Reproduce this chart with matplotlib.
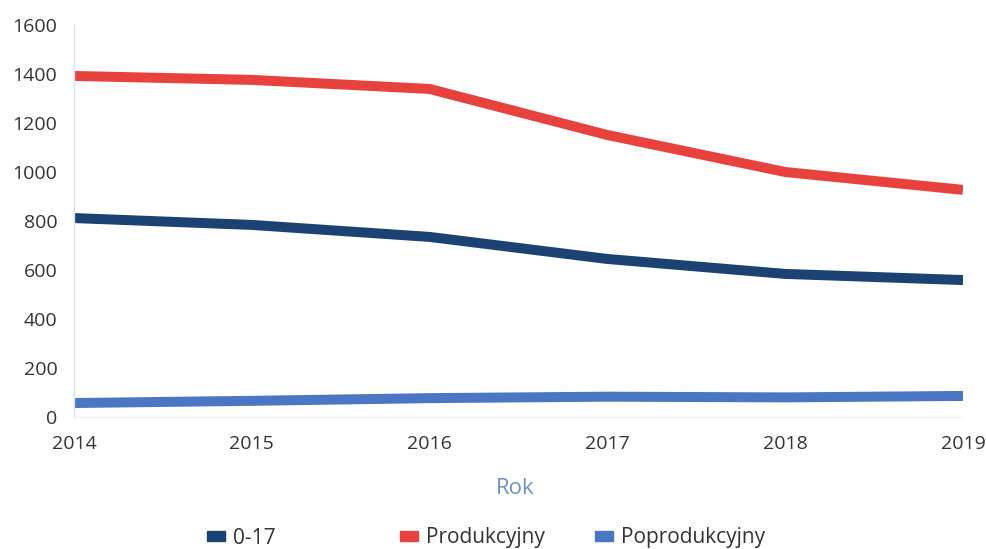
import matplotlib
matplotlib.use("Agg")
import matplotlib.pyplot as plt
from matplotlib.patches import Patch

years = [2014, 2015, 2016, 2017, 2018, 2019]
s_0_17 = [812, 784, 735, 645, 584, 559]
s_prod = [1392, 1376, 1339, 1151, 1000, 927]
s_poprod = [57, 66, 77, 83, 80, 86]
y_ticks = [0, 200, 400, 600, 800, 1000, 1200, 1400, 1600]
series_names = ['0-17', 'Produkcyjny', 'Poprodukcyjny']

c_navy = "#1c4273"
c_red = "#e8423f"
c_blue = "#4a76c4"

plt.rcParams['font.family'] = ['Open Sans', 'DejaVu Sans']

W, H = 987, 549
fig = plt.figure(figsize=(W / 100, H / 100), dpi=100)
ax = fig.add_axes([74 / W, 132 / H, 889 / W, 392 / H])

lw = 7.2
for vals, col in zip([s_0_17, s_prod, s_poprod], [c_navy, c_red, c_blue]):
    ax.plot(years, vals, color=col, lw=lw, solid_joinstyle='round', solid_capstyle='butt')

ax.set_xlim(2014, 2019)
ax.set_ylim(0, 1600)
ax.set_yticks(y_ticks)
ax.set_xticks(years)
ax.tick_params(axis='both', length=0, labelsize=14, labelcolor='#333333')
ax.tick_params(axis='y', pad=12)
ax.tick_params(axis='x', pad=13)
for sp in ['top', 'right']:
    ax.spines[sp].set_visible(False)
ax.spines['left'].set_color('#d5e2ee')
ax.spines['left'].set_linewidth(1)
ax.spines['bottom'].set_color('#eef2f6')
ax.spines['bottom'].set_linewidth(1)

ax.set_xlabel('Rok', fontsize=16, color='#6f8fc4', va='center')
ax.xaxis.set_label_coords((515 - 74) / 889, (417 - 488) / 392)

# legend entries at fixed grid positions
leg_x = [207, 400, 595]
for name, col, lx in zip(series_names, [c_navy, c_red, c_blue], leg_x):
    leg = fig.legend(handles=[Patch(color=col, label=name)], loc='center left',
                     bbox_to_anchor=(lx / W, 1 - 538 / H), frameon=False, fontsize=15,
                     handlelength=0.85, handleheight=0.3, handletextpad=0.4,
                     borderpad=0, borderaxespad=0)
    for t in leg.get_texts():
        t.set_color('#333333')

fig.savefig('out.png', dpi=100)
